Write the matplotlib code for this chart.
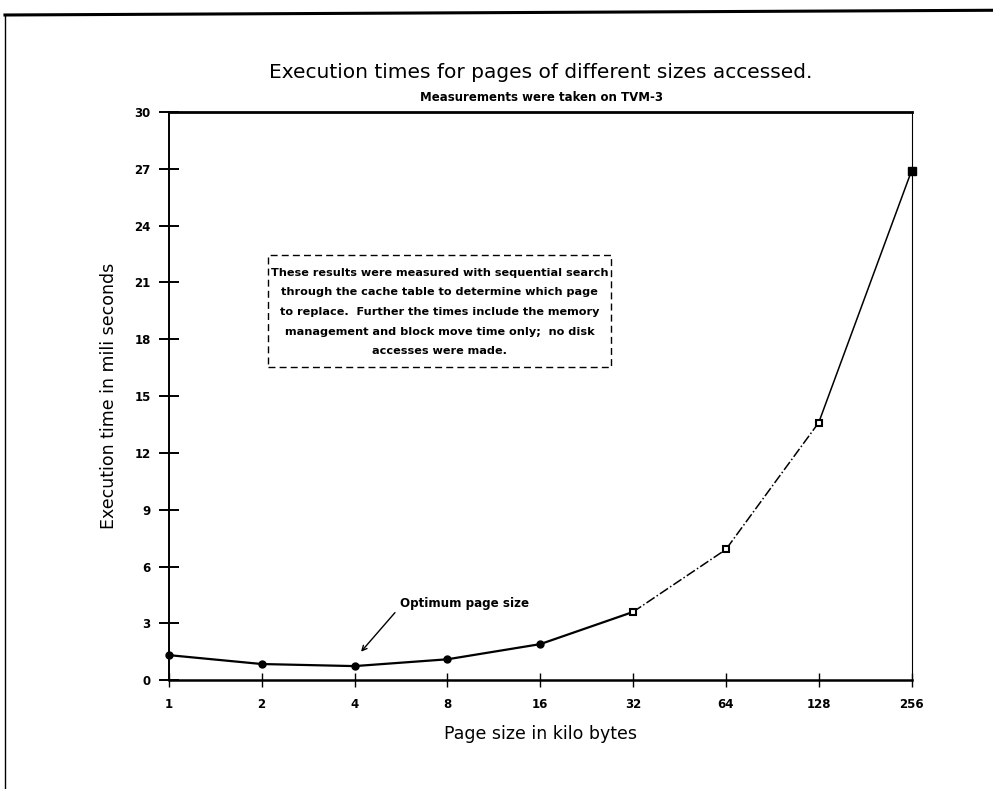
import matplotlib
matplotlib.use("Agg")
import matplotlib.pyplot as plt
from matplotlib.lines import Line2D
from matplotlib.patches import Rectangle

# page sizes (kilo bytes) and measured times (ms)
page_sizes = [1, 2, 4, 8, 16, 32, 64, 128, 256]
exec_times = [1.32, 0.85, 0.74, 1.1, 1.9, 3.6, 6.9, 13.6, 26.9]
y_ticks = [0, 3, 6, 9, 12, 15, 18, 21, 24, 27, 30]

note_lines = [
    "These results were measured with sequential search",
    "through the cache table to determine which page",
    "to replace.  Further the times include the memory",
    "management and block move time only;  no disk",
    "accesses were made.",
]

fig = plt.figure(figsize=(9.93, 7.89), dpi=100)
ax = fig.add_axes([0.170, 0.138, 0.748, 0.720])

# scanned page border
fig.add_artist(Line2D([0.005, 1.0], [0.981, 0.987], color="black", lw=2.2))
fig.add_artist(Line2D([0.005, 0.005], [0.0, 0.981], color="black", lw=1.0))

# line: solid for small pages, dash-dot in the middle, solid to the end
ax.plot(page_sizes[:6], exec_times[:6], color="black", lw=1.6)
ax.plot(page_sizes[5:8], exec_times[5:8], color="black", lw=1.1, ls="-.")
ax.plot(page_sizes[7:], exec_times[7:], color="black", lw=1.1)

ax.plot(page_sizes[:5], exec_times[:5], "o", color="black", ms=5, clip_on=False)
ax.plot(page_sizes[5:8], exec_times[5:8], "s", mfc="white", mec="black", mew=1.5, ms=5)
ax.plot(page_sizes[8:], exec_times[8:], "s", color="black", ms=5.5, clip_on=False)

ax.set_xscale("log", base=2)
ax.set_xlim(1, 256)
ax.set_ylim(0, 30)
ax.set_xticks(page_sizes)
ax.set_xticklabels([str(p) for p in page_sizes])
ax.minorticks_off()
ax.set_yticks(y_ticks)

ax.tick_params(axis="y", direction="inout", length=14, width=1.4, labelsize=8.5, pad=6)
ax.tick_params(axis="x", direction="inout", length=10, width=1.0, labelsize=8.5, pad=8)
for lab in ax.get_xticklabels() + ax.get_yticklabels():
    lab.set_fontweight("bold")

ax.spines["left"].set_linewidth(1.4)
ax.spines["bottom"].set_linewidth(1.8)
ax.spines["top"].set_linewidth(2.0)
ax.spines["right"].set_linewidth(0.8)
ax.spines["right"].set_linestyle((0, (8, 1)))

ax.set_xlabel("Page size in kilo bytes", fontsize=12.5, labelpad=10)
ax.set_ylabel("Execution time in mili seconds", fontsize=12.5, labelpad=12)

fig.text(0.545, 0.908, "Execution times for pages of different sizes accessed.",
         ha="center", va="center", fontsize=14.5)
fig.text(0.545, 0.877, "Measurements were taken on TVM-3",
         ha="center", va="center", fontsize=8.5, fontweight="bold")

# note box
ax.add_patch(Rectangle((0.133, 0.552), 0.463, 0.196, transform=ax.transAxes,
                       fill=False, ec="black", lw=1.0, ls=(0, (5, 3))))
ax.text(0.365, 0.648, "\n".join(note_lines), transform=ax.transAxes,
        ha="center", va="center", multialignment="center",
        fontsize=8.1, fontweight="bold", linespacing=2.2)

ax.annotate("Optimum page size", xy=(4.2, 1.5), xytext=(5.6, 4.05),
            fontsize=8.6, fontweight="bold", va="center", ha="left",
            arrowprops=dict(arrowstyle="->", color="black", lw=1.0,
                            shrinkA=2, shrinkB=0,
                            relpos=(0.0, 0.2)))

fig.savefig("out.png", dpi=100, facecolor="white")
